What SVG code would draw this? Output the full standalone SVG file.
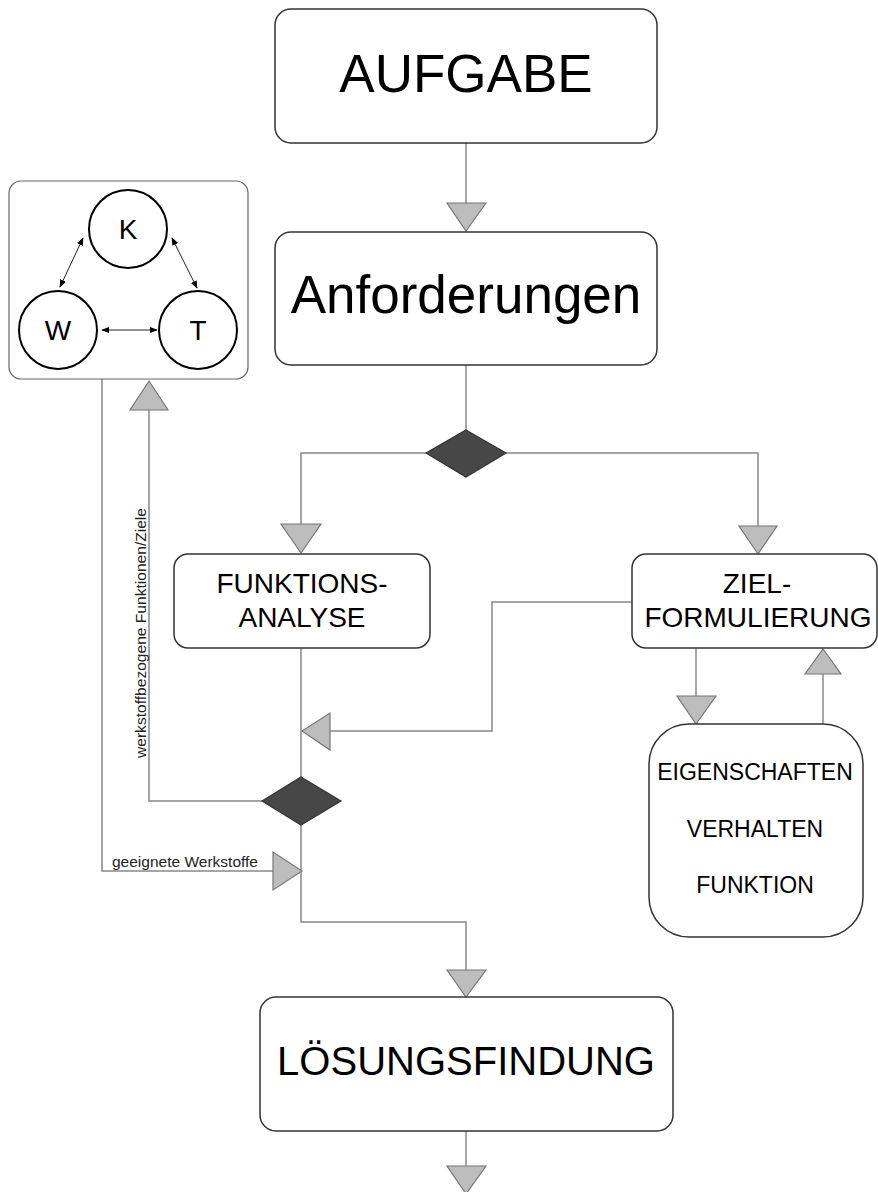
<svg xmlns="http://www.w3.org/2000/svg" width="878" height="1192" viewBox="0 0 878 1192">
<defs>
<marker id="ah" viewBox="0 0 10 10" refX="9" refY="5" markerWidth="8" markerHeight="8" orient="auto-start-reverse" markerUnits="userSpaceOnUse">
<path d="M0,1 L10,5 L0,9 Z" fill="#000"/>
</marker>
</defs>
<style>
.box{fill:#fff;stroke:#333;stroke-width:1.5}
.t{font-family:"Liberation Sans",Arial,sans-serif;fill:#000;text-anchor:middle}
.c{fill:none;stroke:#888;stroke-width:1.5}
.tri{fill:#bdbdbd;stroke:#777;stroke-width:1.2}
.dia{fill:#474747;stroke:#333;stroke-width:1.2}
.circ{fill:#fff;stroke:#000;stroke-width:2}
.kl{fill:none;stroke:#222;stroke-width:1}
.lab{font-family:"Liberation Sans",Arial,sans-serif;fill:#222;font-size:15.5px}
</style>
<rect width="878" height="1192" fill="#fff"/>

<g id="connectors">
<path class="c" d="M466,143 V203"/>
<polygon class="tri" points="447,203 486,203 466,231"/>
<path class="c" d="M466,365 V430"/>
<path class="c" d="M427,453 H301 V524"/>
<polygon class="tri" points="281,524 321,524 301,553"/>
<path class="c" d="M506,453 H758 V526"/>
<polygon class="tri" points="739,526 777,526 758,554"/>
<path class="c" d="M632,602 H492 V731 H330"/>
<polygon class="tri" points="330,713 330,750 302,731"/>
<path class="c" d="M301,648 V777"/>
<path class="c" d="M262,801 H149 V410"/>
<polygon class="tri" points="130,410 168,410 149,381"/>
<path class="c" d="M102,379 V871 H273"/>
<polygon class="tri" points="273,852 273,890 302,871"/>
<path class="c" d="M301,825 V922 H466 V970"/>
<polygon class="tri" points="447,970 486,970 466,997"/>
<path class="c" d="M696,648 V696"/>
<polygon class="tri" points="677,696 716,696 696,724"/>
<path class="c" d="M823,724 V674"/>
<polygon class="tri" points="805,674 841,674 823,649"/>
<path class="c" d="M466,1131 V1166"/>
<polygon class="tri" points="447,1166 486,1166 466,1194"/>
<text class="lab" x="112" y="867" textLength="146" lengthAdjust="spacingAndGlyphs">geeignete Werkstoffe</text>
<text class="lab" transform="translate(146,758) rotate(-90)" x="0" y="0" textLength="250" lengthAdjust="spacingAndGlyphs">werkstoffbezogene Funktionen/Ziele</text>
</g>

<g id="dec1"><polygon class="dia" points="466,430 506,453 466,477 426,453"/></g>
<g id="dec2"><polygon class="dia" points="301,777 341,801 301,825 262,801"/></g>

<g id="aufgabe">
<rect class="box" x="275" y="9" width="382" height="134" rx="16"/>
<text class="t" x="466" y="92" font-size="53">AUFGABE</text>
</g>

<g id="anforderungen">
<rect class="box" x="275" y="232" width="382" height="133" rx="16"/>
<text class="t" x="466" y="313" font-size="53">Anforderungen</text>
</g>

<g id="funktionsanalyse">
<rect class="box" x="174" y="554" width="256" height="94" rx="14"/>
<text class="t" x="302" y="593" font-size="28">FUNKTIONS-</text>
<text class="t" x="302" y="627" font-size="28">ANALYSE</text>
</g>

<g id="zielformulierung">
<rect class="box" x="632" y="554" width="245" height="94" rx="14"/>
<text class="t" x="757" y="593" font-size="28">ZIEL-</text>
<text class="t" x="758" y="627" font-size="28">FORMULIERUNG</text>
</g>

<g id="eigenschaften">
<rect class="box" x="649" y="724" width="214" height="213" rx="40"/>
<text class="t" x="755" y="780" font-size="23">EIGENSCHAFTEN</text>
<text class="t" x="755" y="837" font-size="23">VERHALTEN</text>
<text class="t" x="755" y="893" font-size="23">FUNKTION</text>
</g>

<g id="loesungsfindung">
<rect class="box" x="260" y="997" width="413" height="134" rx="16"/>
<text class="t" x="466" y="1075" font-size="40">LÖSUNGSFINDUNG</text>
</g>

<g id="kwt">
<rect x="9" y="181" width="239" height="198" rx="12" fill="#fff" stroke="#666" stroke-width="1.2"/>
<line class="kl" x1="83" y1="238" x2="60" y2="287" marker-start="url(#ah)" marker-end="url(#ah)"/>
<line class="kl" x1="172" y1="238" x2="197" y2="288" marker-start="url(#ah)" marker-end="url(#ah)"/>
<line class="kl" x1="102" y1="330" x2="157" y2="330" marker-start="url(#ah)" marker-end="url(#ah)"/>
<g id="k"><circle class="circ" cx="128" cy="229" r="39"/><text class="t" x="128" y="239" font-size="28">K</text></g>
<g id="w"><circle class="circ" cx="58" cy="330" r="39"/><text class="t" x="58" y="340" font-size="28">W</text></g>
<g id="t"><circle class="circ" cx="198" cy="330" r="39"/><text class="t" x="198" y="340" font-size="28">T</text></g>
</g>
</svg>
